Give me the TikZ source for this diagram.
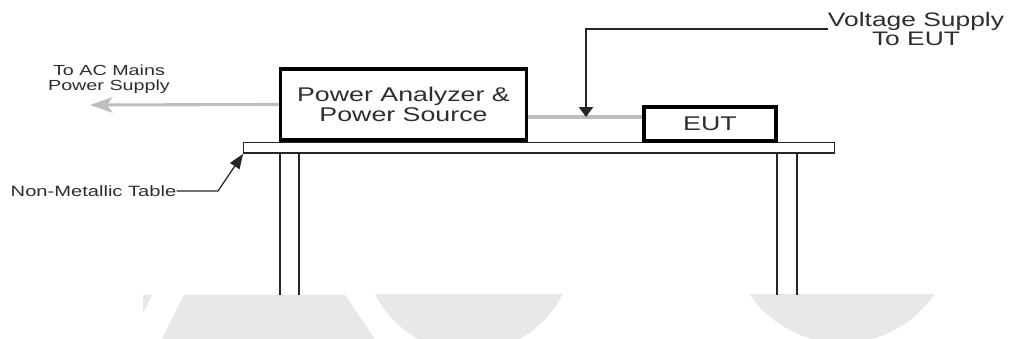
\documentclass[tikz,border=0pt]{standalone}
\usepackage{fontspec}
\setmainfont[FakeStretch=1.35]{Liberation Sans}
\usetikzlibrary{arrows.meta}

\definecolor{inkgray}{HTML}{2E2E2E}
\definecolor{feedgray}{HTML}{BDBDBD}
\definecolor{markgray}{HTML}{E8E8E8}

\tikzset{
  unitbox/.style={draw=black, line width=2.6pt, fill=white, align=center,
    text=inkgray, inner sep=0pt, font=\fontsize{14.1}{14.5}\selectfont},
  tabletop/.style={draw=black!85, line width=1pt, fill=white,
    minimum width=14.76cm, minimum height=0.26cm, inner sep=0pt},
  tag/.style={text=inkgray, inner sep=0pt, align=center},
  feed/.style={draw=feedgray, line width=2.2pt},
  leader/.style={draw=black!85, line width=0.9pt},
  leg/.style={draw=black!85, line width=1pt},
}

\begin{document}
\begin{tikzpicture}[x=0.025cm, y=-0.025cm]
\useasboundingbox (0,0) rectangle (1010,339);

% faint marks along the bottom edge
\begin{scope}
\clip (0,295) rectangle (1010,339);
\fill[markgray] (143,295) -- (152,295) -- (143,313) -- cycle;
\fill[markgray] (184,295) -- (345,295) -- (375,339) -- (162,339) -- cycle;
\fill[markgray] (469,247) circle (105);
\fill[markgray] (842,231) circle (112);
\end{scope}

% table
\node[tabletop] (table) at (539,148) {};
\foreach \lx in {280,299,777,797}
  \draw[leg] (\lx,154) -- (\lx,295);

% equipment
\node[unitbox, minimum width=6.15cm, minimum height=1.79cm] (pa) at (403.5,104.5)
  {Power Analyzer \&\\Power Source};
\node[unitbox, minimum width=3.31cm, minimum height=0.86cm] (eut) at (710,124) {EUT};

% supply lines
\coordinate (vtip) at (586,117);
\draw[feed] (pa.east |- vtip) -- (eut.west |- vtip);
\coordinate (acend) at (90,105);
\draw[feed, -{Stealth[length=16pt, width=11pt, inset=4pt]}] (pa.west) -- (acend);

% labels
\node[tag, font=\fontsize{13.9}{13.4}\selectfont] (volt) at (916,29)
  {Voltage Supply\\To EUT};
\node[tag, font=\fontsize{10.4}{10.7}\selectfont] (ac) at (109,79)
  {To AC Mains\\Power Supply};
\node[tag, font=\fontsize{10.6}{12}\selectfont] (nmt) at (93.5,191)
  {Non-Metallic Table};

\draw[leader, -{Triangle[length=7pt, width=10pt]}] (volt.west) -| (vtip);
\coordinate (nmbend) at (218,191);
\draw[leader, -{Triangle[length=10.5pt, width=8pt]}] (nmt.east) -- (nmbend) -- (table.south west);
\end{tikzpicture}
\end{document}
